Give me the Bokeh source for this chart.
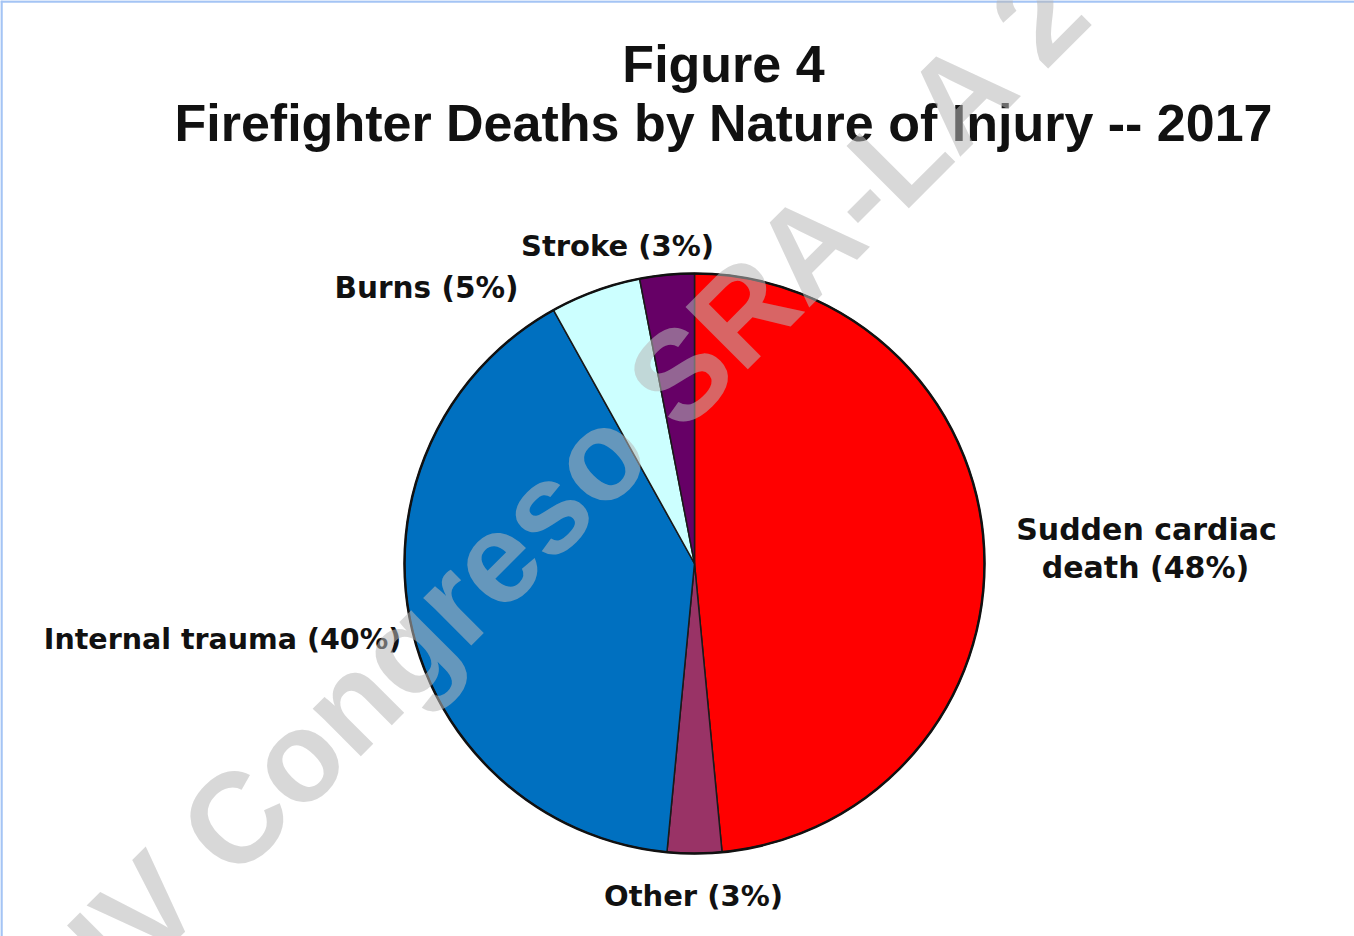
import math
from bokeh.plotting import figure
from bokeh.models import Range1d, ColumnDataSource
from bokeh.core.properties import value
from bokeh.embed import file_html
from bokeh.resources import INLINE

# ---- data ----
categories = ["Sudden cardiac death", "Other", "Internal trauma", "Burns", "Stroke"]
percents = [48, 3, 40, 5, 3]
label_lines = [["Sudden cardiac", "death (48%)"], ["Other (3%)"], ["Internal trauma (40%)"],
               ["Burns (5%)"], ["Stroke (3%)"]]
colors = ["#FF0000", "#993366", "#0070C0", "#CCFFFF", "#660066"]
title_lines = ["Figure 4", "Firefighter Deaths by Nature of Injury -- 2017"]
watermark = "IV Congreso SRA-LA 2"

# ---- layout ----
W, H = 1354, 936
def px(x, y):
    # reference image pixel -> data coordinates (1:1 pixel mapping)
    return x, H - y

cx, cy = px(694, 563)
R = 290

p = figure(width=W, height=H, x_range=Range1d(0, W), y_range=Range1d(0, H),
           x_axis_type=None, y_axis_type=None, toolbar_location=None,
           output_backend="svg", min_border=0)
p.grid.visible = False
p.outline_line_color = None
p.background_fill_color = "white"
p.border_fill_color = "white"

# thin light-blue frame edges (top and left)
p.segment(x0=[0, 1], y0=[H - 1, H], x1=[W, 1], y1=[H - 1, 0],
          line_color="#a4c4f4", line_width=2.5)

total = float(sum(percents))
starts, ends = [], []
cum = 0.0
for v in percents:
    starts.append(math.pi / 2 - 2 * math.pi * cum / total)
    cum += v
    ends.append(math.pi / 2 - 2 * math.pi * cum / total)

src = ColumnDataSource(dict(x=[cx] * len(percents), y=[cy] * len(percents),
                            start=starts, end=ends, color=colors, cat=categories))
p.wedge(x="x", y="y", radius=R, start_angle="start", end_angle="end",
        direction="clock", fill_color="color", line_color="#1a1a1a", line_width=1.5,
        source=src)
p.circle(x=[cx], y=[cy], radius=R, fill_color=None, line_color="#111111", line_width=2.5)

# title
tpos = [px(723, 63), px(723, 122)]
for (tx, ty), t in zip(tpos, title_lines):
    p.text(x=[tx], y=[ty], text=[t], text_align="center", text_baseline="alphabetic",
           text_font=value("Liberation Sans"), text_font_style="bold",
           text_font_size="52px", text_color="#111111")

# slice labels
label_pos = [[px(1146, 529), px(1145, 567)], [px(693, 895)], [px(222, 639)],
             [px(426, 287)], [px(617, 245)]]
label_size = [["30px", "30px"], ["29px"], ["28.5px"], ["29.5px"], ["29px"]]
for lines, poss, sizes in zip(label_lines, label_pos, label_size):
    for t, (lx, ly), fs in zip(lines, poss, sizes):
        p.text(x=[lx], y=[ly], text=[t], text_align="center", text_baseline="alphabetic",
               text_font=value("DejaVu Sans"), text_font_style="bold",
               text_font_size=fs, text_color="#111111")

# watermark
wx, wy = px(579, 474)
p.text(x=[wx], y=[wy], text=[watermark], angle=math.pi / 4, text_align="center",
       text_baseline="alphabetic", text_font=value("Liberation Sans"),
       text_font_style="bold", text_font_size="128px", text_color="#b8b8b8",
       text_alpha=0.55)

open("out.html", "w").write(file_html(p, INLINE))
